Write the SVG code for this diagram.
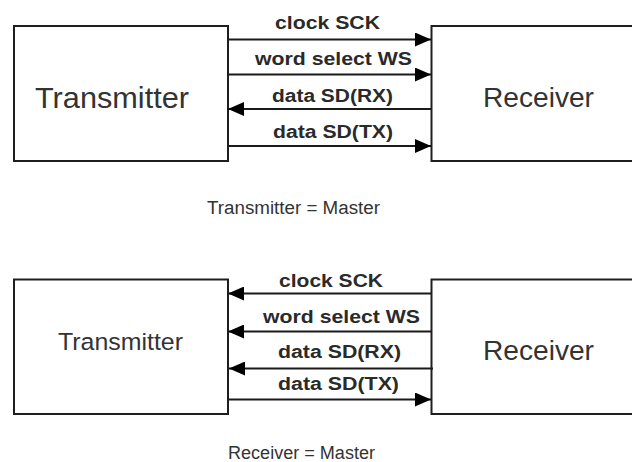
<svg xmlns="http://www.w3.org/2000/svg" width="632" height="462" viewBox="0 0 632 462">
<style>
.box{fill:#fff;stroke:#1e1e1e;stroke-width:2}
.big{font-family:"Liberation Sans",Arial,sans-serif;fill:#333}
.lbl{font-family:"Liberation Sans",Arial,sans-serif;font-weight:bold;font-size:17.5px;fill:#2a2a2a}
.cap{font-family:"Liberation Sans",Arial,sans-serif;font-size:18px;fill:#333}
.ln{stroke:#1a1a1a;stroke-width:2;fill:none}
.r{marker-end:url(#ah)}
</style>
<defs>
<marker id="ah" markerUnits="userSpaceOnUse" markerWidth="16" markerHeight="14" refX="16" refY="7" orient="auto">
<path d="M0,0 L16,7 L0,14 Z" fill="#000"/>
</marker>
</defs>
<rect width="632" height="462" fill="#fff"/>

<g id="top-transmitter">
<rect class="box" x="14" y="26" width="214" height="135"/>
<text class="big" x="35" y="107.5" font-size="30" textLength="154" lengthAdjust="spacingAndGlyphs">Transmitter</text>
</g>
<g id="top-receiver">
<rect class="box" x="431.5" y="26" width="220" height="135"/>
<text class="big" x="483" y="106.7" font-size="28.5" textLength="111" lengthAdjust="spacingAndGlyphs">Receiver</text>
</g>

<g id="bottom-transmitter">
<rect class="box" x="14" y="279.5" width="214" height="134.5"/>
<text class="big" x="58" y="350" font-size="24.5" textLength="125" lengthAdjust="spacingAndGlyphs">Transmitter</text>
</g>
<g id="bottom-receiver">
<rect class="box" x="431.5" y="279.5" width="220" height="134.5"/>
<text class="big" x="483" y="360" font-size="28.5" textLength="111" lengthAdjust="spacingAndGlyphs">Receiver</text>
</g>

<g id="connectors">
<line class="ln r" x1="228" y1="39.5" x2="431" y2="39.5"/>
<line class="ln r" x1="228" y1="74.5" x2="431" y2="74.5"/>
<line class="ln r" x1="431" y1="109" x2="228" y2="109"/>
<line class="ln r" x1="228" y1="146" x2="431" y2="146"/>

<line class="ln r" x1="431" y1="293.5" x2="228" y2="293.5"/>
<line class="ln r" x1="431" y1="331.5" x2="228" y2="331.5"/>
<line class="ln r" x1="433" y1="368.5" x2="229" y2="368.5"/>
<line class="ln r" x1="228" y1="399.5" x2="431" y2="399.5"/>
</g>

<g id="labels">
<text class="lbl" x="275" y="29.3" textLength="105" lengthAdjust="spacingAndGlyphs">clock SCK</text>
<text class="lbl" x="255" y="65" textLength="157" lengthAdjust="spacingAndGlyphs">word select WS</text>
<text class="lbl" x="272" y="101.7" textLength="121" lengthAdjust="spacingAndGlyphs">data SD(RX)</text>
<text class="lbl" x="273" y="138.3" textLength="120" lengthAdjust="spacingAndGlyphs">data SD(TX)</text>

<text class="lbl" x="279" y="286.7" textLength="104" lengthAdjust="spacingAndGlyphs">clock SCK</text>
<text class="lbl" x="263" y="323" textLength="157" lengthAdjust="spacingAndGlyphs">word select WS</text>
<text class="lbl" x="278" y="358" textLength="123" lengthAdjust="spacingAndGlyphs">data SD(RX)</text>
<text class="lbl" x="278" y="390" textLength="121" lengthAdjust="spacingAndGlyphs">data SD(TX)</text>
</g>

<text class="cap" x="207" y="213.5" textLength="173" lengthAdjust="spacingAndGlyphs">Transmitter = Master</text>
<text class="cap" x="228" y="458.5" textLength="147" lengthAdjust="spacingAndGlyphs">Receiver = Master</text>
</svg>
